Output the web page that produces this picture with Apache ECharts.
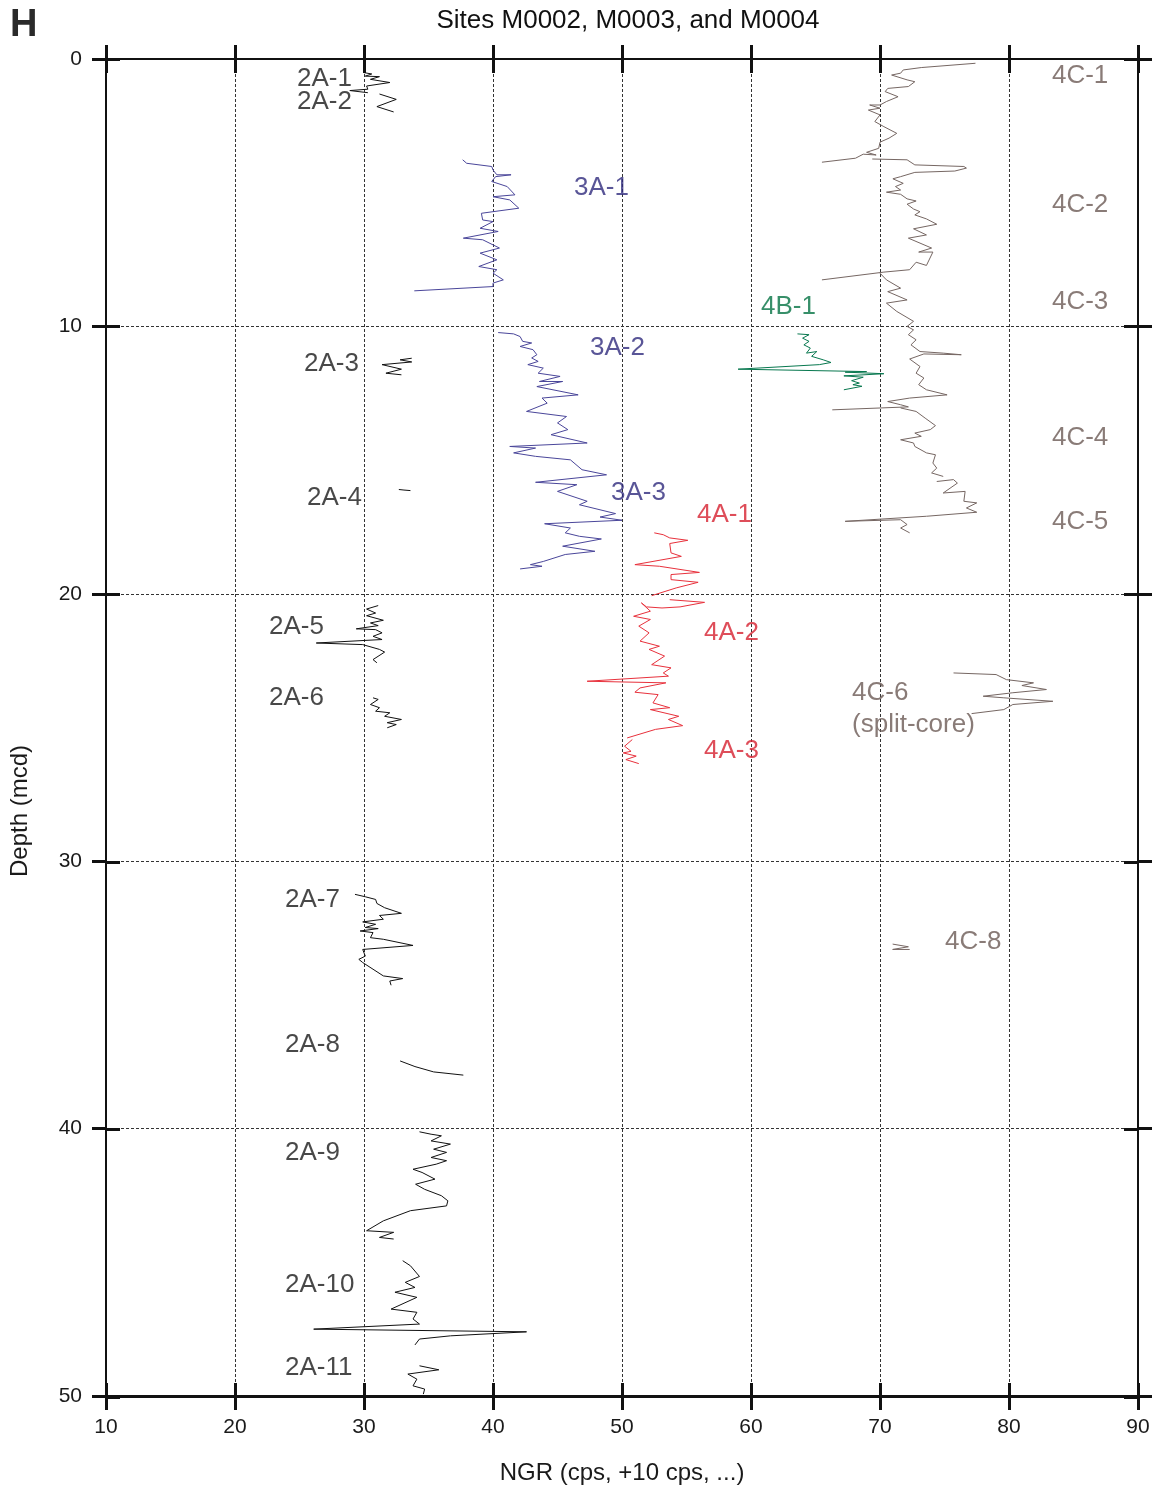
<!DOCTYPE html>
<html>
<head>
<meta charset="utf-8">
<script src="https://cdn.jsdelivr.net/npm/echarts@6/dist/echarts.min.js"></script>
<style>
  html, body { margin: 0; padding: 0; background: #fff; }
  #chart { width: 1156px; height: 1490px; }
</style>
</head>
<body>
<div id="chart"></div>
<script>
// ---------- axis ticks ----------
const xTicks = [10, 20, 30, 40, 50, 60, 70, 80, 90];
const depthTicks = [0, 10, 20, 30, 40, 50];

// ---------- Hole M0002A (black) : [NGR, depth] ----------
const core2A_1 = [[30.0,0.51],[30.6,0.56],[30.1,0.64],[31.2,0.66],[30.5,0.76],[32.0,0.88],[30.2,1.01],[30.3,1.13],[28.9,1.18],[30.3,1.26]];
const core2A_2 = [[31.2,1.31],[32.5,1.51],[31.0,1.78],[32.3,1.98]];
const core2A_3 = [[33.7,11.19],[32.8,11.25],[33.7,11.33],[31.4,11.43],[32.9,11.60],[31.7,11.75],[32.9,11.81]];
const core2A_4 = [[32.7,16.10],[33.1,16.12],[33.6,16.14]];
const core2A_5 = [[31.1,20.44],[30.2,20.57],[30.9,20.72],[30.2,20.82],[31.5,20.99],[30.5,21.09],[31.1,21.19],[29.4,21.31],[30.9,21.34],[31.4,21.46],[30.7,21.59],[31.4,21.71],[26.3,21.84],[29.9,21.90],[31.2,22.08],[31.6,22.18],[30.7,22.46],[31.0,22.58]];
const core2A_6 = [[30.7,23.89],[31.1,23.95],[30.5,24.14],[31.2,24.26],[30.9,24.39],[32.0,24.45],[31.6,24.58],[32.9,24.70],[31.8,24.82],[32.5,24.89],[31.8,25.01]];
const core2A_7 = [[29.3,31.24],[30.1,31.33],[30.9,31.43],[31.0,31.58],[31.6,31.74],[32.9,31.95],[31.2,32.03],[31.5,32.17],[29.9,32.27],[30.9,32.36],[30.1,32.48],[31.1,32.52],[29.7,32.61],[30.7,32.67],[30.5,32.86],[31.5,32.92],[33.8,33.15],[29.9,33.30],[30.1,33.55],[29.6,33.67],[29.9,33.79],[31.5,34.29],[33.0,34.39],[32.0,34.48],[32.1,34.64]];
const core2A_8 = [[32.8,37.47],[33.95,37.68],[35.4,37.88],[37.7,38.0]];
const core2A_9 = [[34.3,40.12],[35.2,40.21],[36.0,40.27],[35.2,40.46],[36.7,40.58],[35.4,40.77],[36.4,40.89],[35.2,41.08],[36.4,41.20],[35.6,41.33],[33.8,41.52],[34.5,41.64],[35.5,41.89],[34.0,42.08],[34.7,42.27],[36.0,42.51],[36.5,42.70],[36.4,42.89],[33.6,43.07],[31.5,43.45],[30.2,43.82],[32.3,43.88],[31.2,44.07],[32.3,44.13]];
const core2A_10 = [[33.0,44.94],[33.6,45.13],[34.3,45.53],[33.2,45.75],[33.95,45.94],[32.4,46.12],[34.1,46.31],[32.1,46.75],[34.1,46.87],[33.8,47.12],[34.3,47.31],[26.1,47.50],[42.6,47.60],[36.7,47.75],[34.3,47.87],[33.95,48.09]];
const core2A_11 = [[34.3,48.87],[35.8,49.02],[33.4,49.18],[34.1,49.37],[33.8,49.62],[34.7,49.74],[34.6,49.93]];

// ---------- Hole M0003A (blue) ----------
const core3A_1 = [[37.65,3.77],[37.96,3.90],[39.9,4.02],[40.0,4.15],[40.3,4.33],[41.4,4.33],[40.2,4.40],[39.9,4.58],[41.1,4.77],[41.7,5.08],[40.0,5.15],[41.3,5.27],[42.0,5.58],[40.0,5.71],[39.1,5.77],[39.2,6.02],[40.0,6.08],[39.0,6.33],[40.4,6.45],[37.7,6.70],[39.2,6.76],[40.5,7.07],[39.0,7.26],[40.3,7.51],[38.9,7.76],[40.3,7.88],[40.0,8.01],[40.8,8.26],[40.0,8.38],[40.0,8.51],[33.9,8.67]];
const core3A_2 = [[40.4,10.23],[41.6,10.28],[42.1,10.38],[42.3,10.56],[43.0,10.62],[42.1,10.75],[43.1,10.87],[43.4,11.06],[43.0,11.18],[43.5,11.31],[42.7,11.43],[43.9,11.56],[43.5,11.75],[45.2,11.87],[43.6,12.06],[45.4,12.06],[43.4,12.25],[46.6,12.56],[43.8,12.68],[44.2,12.87],[42.6,13.18],[45.7,13.37],[45.0,13.61],[45.8,13.86],[44.5,14.05],[47.3,14.36],[41.3,14.49],[43.3,14.55],[41.6,14.73],[43.3,14.86],[46.0,14.99],[46.9,15.36],[48.8,15.55],[43.3,15.83],[46.5,15.92],[45.0,16.17],[47.3,16.54],[46.7,16.67],[49.5,17.0],[48.3,17.13],[50.0,17.25]];
const core3A_3 = [[50.0,17.25],[44.0,17.38],[46.0,17.54],[45.6,17.72],[46.7,17.85],[48.4,17.95],[45.4,18.22],[47.9,18.41],[45.6,18.53],[43.9,18.79],[42.9,18.91],[43.8,18.97],[42.1,19.07]];

// ---------- Hole M0004A (red) ----------
const core4A_1 = [[52.5,17.72],[53.2,17.79],[53.7,17.91],[55.1,18.0],[53.7,18.12],[53.8,18.47],[54.6,18.60],[51.0,18.91],[52.9,18.97],[56.0,19.20],[53.8,19.28],[53.8,19.47],[55.9,19.57],[54.2,19.78],[52.3,20.07]];
const core4A_2 = [[53.7,20.22],[56.4,20.32],[54.5,20.49],[53.1,20.53],[51.9,20.49],[51.5,20.34],[52.2,20.65],[50.9,20.84],[52.2,20.96],[51.3,21.21],[52.1,21.46],[51.4,21.77],[52.9,21.96],[52.1,22.08],[53.3,22.33],[52.3,22.65],[53.8,22.77],[53.2,22.96],[53.6,23.08],[47.3,23.27],[53.4,23.33],[51.4,23.52],[51.0,23.68],[52.8,23.77],[52.4,24.08],[53.7,24.26],[52.2,24.33],[54.4,24.58],[53.6,24.70],[54.7,24.93],[52.6,25.07],[50.4,25.39]];
const core4A_3 = [[50.8,25.45],[50.2,25.70],[50.7,25.89],[50.1,25.95],[51.1,26.07],[50.3,26.20],[51.3,26.35]];

// ---------- Hole M0004B (green) ----------
const core4B_1 = [[63.6,10.28],[64.5,10.31],[64.0,10.44],[64.5,10.56],[64.1,10.69],[64.6,10.81],[64.3,11.0],[65.1,10.94],[64.7,11.12],[65.6,11.25],[66.2,11.35],[65.3,11.43],[59.0,11.60],[68.96,11.69],[67.3,11.71],[70.3,11.77],[67.2,11.85],[68.7,11.90],[67.8,12.03],[68.4,12.12],[67.9,12.18],[68.6,12.24],[67.2,12.37]];

// ---------- Hole M0004C (grey-brown) ----------
const core4C_1 = [[77.4,0.16],[73.2,0.32],[71.8,0.41],[71.6,0.53],[70.9,0.60],[72.1,0.78],[72.7,0.85],[72.2,1.03],[70.6,1.10],[70.4,1.22],[71.4,1.41],[70.5,1.59],[70.0,1.72],[69.2,1.72],[70.0,1.84],[69.1,1.91],[70.0,2.09],[69.6,2.34],[70.3,2.53],[71.3,2.78],[70.7,2.96],[70.0,3.11],[69.9,3.34],[68.96,3.49],[69.7,3.59],[68.7,3.56],[68.1,3.71],[65.5,3.86]];
const core4C_2 = [[69.4,3.74],[72.1,3.77],[72.7,3.96],[76.5,4.02],[76.7,4.08],[75.8,4.19],[72.7,4.24],[71.6,4.40],[71.0,4.48],[71.8,4.65],[71.2,4.77],[71.6,4.90],[70.5,4.98],[71.6,5.06],[72.1,5.23],[72.8,5.31],[72.1,5.43],[72.6,5.61],[73.1,5.71],[72.7,5.83],[73.6,5.98],[74.4,6.18],[72.6,6.35],[73.6,6.58],[72.2,6.70],[74.0,7.07],[73.0,7.22],[74.1,7.22],[73.6,7.72],[72.8,7.60],[72.3,7.88],[70.3,7.97],[65.5,8.26]];
const core4C_3 = [[70.0,8.01],[70.5,8.26],[71.6,8.57],[70.6,8.70],[72.1,9.01],[70.5,9.13],[71.3,9.44],[72.6,9.81],[72.1,10.0],[72.6,10.13],[72.2,10.31],[72.8,10.50],[72.4,10.69],[73.1,10.94],[74.9,11.0],[76.3,11.06],[73.4,11.03],[72.3,11.22],[73.1,11.50],[72.8,11.75],[73.4,11.93],[73.0,12.18],[73.6,12.37],[75.2,12.56],[72.3,12.68],[70.6,12.81],[71.6,12.93],[72.2,13.01],[66.3,13.12]];
const core4C_4 = [[71.6,13.05],[72.8,13.18],[73.5,13.43],[74.3,13.71],[73.9,13.86],[72.7,13.99],[73.2,14.11],[71.6,14.24],[72.6,14.36],[72.7,14.49],[73.6,14.73],[74.3,14.80],[74.1,15.11],[74.4,15.30],[74.0,15.48],[74.9,15.61]];
const core4C_5 = [[74.4,15.80],[75.7,15.73],[76.0,15.86],[74.9,16.23],[76.6,16.17],[76.5,16.54],[77.5,16.60],[76.7,16.79],[77.5,16.95],[73.6,17.10],[67.3,17.29],[71.6,17.23],[72.1,17.41],[71.6,17.54],[72.3,17.72]];
const core4C_6 = [[75.7,22.96],[79.0,23.02],[79.8,23.21],[81.9,23.33],[81.0,23.43],[82.9,23.58],[80.3,23.70],[78.0,23.83],[79.6,23.89],[83.4,24.02],[80.3,24.14],[79.6,24.33],[77.1,24.48]];
const core4C_8 = [[70.98,33.1],[72.2,33.2],[70.98,33.3],[72.3,33.3]];

// ---------- section labels ----------
const labelText = ['2A-1','2A-2','2A-3','2A-4','2A-5','2A-6','2A-7','2A-8','2A-9','2A-10','2A-11',
  '3A-1','3A-2','3A-3','4A-1','4A-2','4A-3','4B-1',
  '4C-1','4C-2','4C-3','4C-4','4C-5','4C-6\n(split-core)','4C-8'];
const labelNGR = [24.81,24.81,25.35,25.58,22.64,22.64,23.88,23.88,23.88,23.88,23.88,
  46.28,47.52,49.15,55.81,56.36,56.36,60.78,
  83.33,83.33,83.33,83.33,83.33,67.83,75.04];
const labelDepth = [0.75,1.61,11.40,16.40,21.23,23.88,31.46,36.85,40.92,45.85,48.95,
  4.82,10.80,16.22,17.04,21.45,25.86,9.27,
  0.64,5.46,9.08,14.16,17.30,24.29,33.03];
const labelHole = ['2A','2A','2A','2A','2A','2A','2A','2A','2A','2A','2A',
  '3A','3A','3A','4A','4A','4A','4B','4C','4C','4C','4C','4C','4C','4C'];

// ---------- styling ----------
const lineColor = { '2A': '#111111', '3A': '#4a469a', '4A': '#e8313c', '4B': '#08784f', '4C': '#766763' };
const textColor = { '2A': '#1a1a1a', '3A': '#2f2a7d', '4A': '#d6202f', '4B': '#057343', '4C': '#6c5a55' };

const sections = [
  ['2A', core2A_1],['2A', core2A_2],['2A', core2A_3],['2A', core2A_4],['2A', core2A_5],['2A', core2A_6],
  ['2A', core2A_7],['2A', core2A_8],['2A', core2A_9],['2A', core2A_10],['2A', core2A_11],
  ['3A', core3A_1],['3A', core3A_2],['3A', core3A_3],
  ['4A', core4A_1],['4A', core4A_2],['4A', core4A_3],
  ['4B', core4B_1],
  ['4C', core4C_1],['4C', core4C_2],['4C', core4C_3],['4C', core4C_4],['4C', core4C_5],['4C', core4C_6],['4C', core4C_8]
];

const FONT = 'Liberation Sans, Arial, Helvetica, sans-serif';
const GRID = { left: 106, right: 18, top: 59, bottom: 93 };

const series = sections.map(([hole, pts]) => ({
  type: 'line', xAxisIndex: 0, yAxisIndex: 0,
  data: pts, showSymbol: false, symbol: 'none', silent: true,
  lineStyle: { color: lineColor[hole], width: 1 },
  z: 3
}));

series.push({
  type: 'scatter', xAxisIndex: 0, yAxisIndex: 0, silent: true,
  symbolSize: 0,
  data: labelText.map((t, i) => ({ value: [labelNGR[i], labelDepth[i]], name: t,
    label: { color: textColor[labelHole[i]] } })),
  label: {
    show: true, position: 'right', distance: 0,
    formatter: p => p.name,
    fontFamily: FONT, fontSize: 26, lineHeight: 32, align: 'left'
  },
  z: 5
});

const axisLineStyle = { color: '#111', width: 2 };
const tickStyleBase = { color: '#111', width: 3 };
const splitStyle = { show: true, lineStyle: { color: '#333', width: 1, type: [3, 2] } };

function xAxisDef(gridIndex, position, inside, withLabels, withSplit) {
  return {
    type: 'value', gridIndex, position, min: 10, max: 90, interval: 10,
    axisLine: { show: true, lineStyle: axisLineStyle, onZero: false },
    axisTick: { show: true, inside, length: 14, lineStyle: tickStyleBase },
    axisLabel: { show: withLabels, fontFamily: FONT, fontSize: 21, color: '#1a1a1a', margin: 21 },
    splitLine: withSplit ? splitStyle : { show: false },
    name: withLabels ? 'NGR (cps, +10 cps, ...)' : '',
    nameLocation: 'middle', nameGap: 65,
    nameTextStyle: { fontFamily: FONT, fontSize: 24, color: '#1a1a1a' }
  };
}
function yAxisDef(gridIndex, position, inside, withLabels, withSplit) {
  return {
    type: 'value', gridIndex, position, min: 0, max: 50, interval: 10, inverse: true,
    axisLine: { show: true, lineStyle: axisLineStyle, onZero: false },
    axisTick: { show: true, inside, length: 14, lineStyle: tickStyleBase },
    axisLabel: { show: withLabels, fontFamily: FONT, fontSize: 21, color: '#1a1a1a', margin: 24 },
    splitLine: withSplit ? splitStyle : { show: false }
  };
}

const option = {
  animation: false,
  backgroundColor: '#ffffff',
  title: [{
    text: 'Sites M0002, M0003, and M0004', left: 623, top: 3, textAlign: 'center',
    textStyle: { fontFamily: FONT, fontSize: 26, fontWeight: 'normal', color: '#111' }
  }, {
    text: 'H', left: 5, top: 2,
    textStyle: { fontFamily: FONT, fontSize: 38, fontWeight: 'bold', color: '#2a2a2a' }
  }],
  grid: [Object.assign({}, GRID), Object.assign({}, GRID)],
  xAxis: [
    xAxisDef(0, 'bottom', false, true, true),
    xAxisDef(0, 'top', false, false, false),
    xAxisDef(1, 'bottom', true, false, false),
    xAxisDef(1, 'top', true, false, false)
  ],
  yAxis: [
    yAxisDef(0, 'left', false, true, true),
    yAxisDef(0, 'right', false, false, false),
    yAxisDef(1, 'left', true, false, false),
    yAxisDef(1, 'right', true, false, false)
  ],
  graphic: [{
    type: 'text', left: 8, top: 745,
    rotation: Math.PI / 2, originX: 0, originY: 0,
    style: { text: 'Depth (mcd)', fontFamily: FONT, fontSize: 24, fill: '#1a1a1a' }
  }],
  series
};

const chart = echarts.init(document.getElementById('chart'), null, { renderer: 'canvas' });
chart.setOption(option);
</script>
</body>
</html>
